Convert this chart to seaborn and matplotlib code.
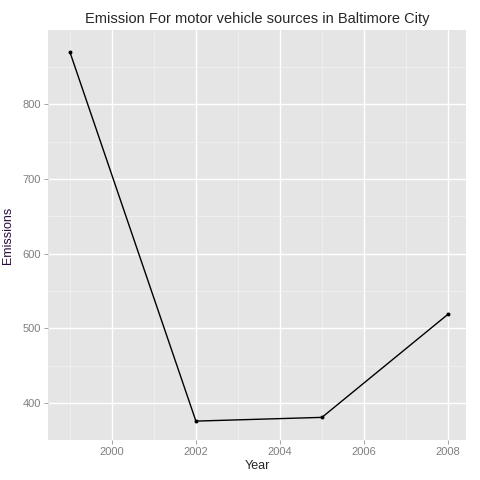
import matplotlib
matplotlib.use("Agg")
import matplotlib.pyplot as plt
import seaborn as sns
import pandas as pd
from matplotlib.ticker import MultipleLocator

years = [1999, 2002, 2005, 2008]
emissions = [870, 376, 381, 519]
df = pd.DataFrame({"Year": years, "Emissions": emissions})

sns.set_theme(style="darkgrid", rc={"axes.facecolor": "#E5E5E5"})
plt.rcParams['font.family'] = ['Liberation Sans', 'DejaVu Sans']

fig = plt.figure(figsize=(4.8, 4.8), dpi=100)
ax = fig.add_axes([0.1, 0.083, 0.871, 0.854])
sns.lineplot(data=df, x="Year", y="Emissions", color="black", linewidth=1, ax=ax)
sns.scatterplot(data=df, x="Year", y="Emissions", color="black", s=10, ax=ax)

ax.set_xlim(1998.48, 2008.43)
ax.set_ylim(350.5, 899)
ax.xaxis.set_major_locator(MultipleLocator(2))
ax.xaxis.set_minor_locator(MultipleLocator(1))
ax.yaxis.set_major_locator(MultipleLocator(100))
ax.yaxis.set_minor_locator(MultipleLocator(50))
ax.grid(which="major", color="white", linewidth=1)
ax.grid(which="minor", color="#F2F2F2", linewidth=0.5)
for s in ax.spines.values():
    s.set_visible(False)
ax.tick_params(axis="both", labelsize=8, labelcolor="#7F7F7F", length=3, color="#7F7F7F", pad=2)
ax.tick_params(axis="both", which="major", bottom=True, left=True, width=0.5)
ax.set_title("Emission For motor vehicle sources in Baltimore City", fontsize=10.5, pad=5)
ax.set_xlabel("Year", fontsize=9, labelpad=2)
ax.set_ylabel("Emissions", fontsize=9, color="#2B0A3D", labelpad=6)

fig.savefig("out.png", dpi=100, facecolor="white")
